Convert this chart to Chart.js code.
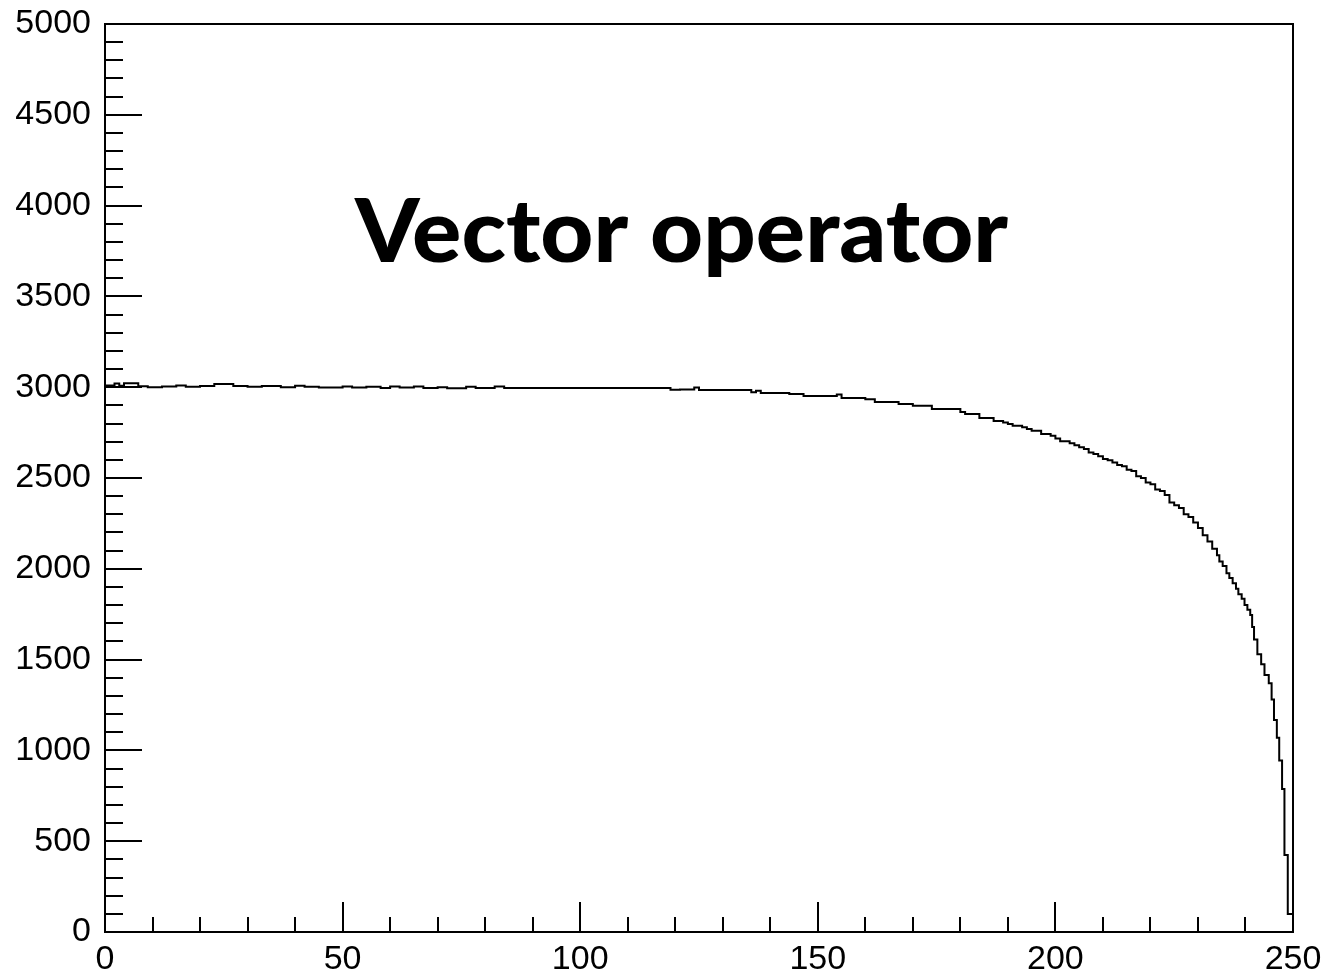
<!DOCTYPE html>
<html>
<head>
<meta charset="utf-8">
<script src="https://cdn.jsdelivr.net/npm/chart.js@4/dist/chart.umd.min.js"></script>
<style>
html,body{margin:0;padding:0;background:#fff;}
#c{display:block;}
</style>
</head>
<body>
<canvas id="c" width="1323" height="978"></canvas>
<script>
// ---- data (histogram step starts and contents) ----
const stepStarts = [0,2,3,4,7,9,12,15,17,20,23,27,30,33,37,40,42,45,50,52,55,58,60,62,65,67,70,72,76,78,82,84,87,
  119,121,124,125,136,137,138,144,147,154,155,160,162,167,170,174,180,181,184,187,189,190,191,193,194,195,197,199,
  200,201,203,204,205,206,207,208,209,210,211,212,213,214,215,216,217,218,219,220,221,222,223,224,225,226,227,228,229,
  230,231,232,233,234,234.5,235.2,236,236.6,237.3,238,238.5,239.2,239.8,240.4,241,241.4,241.8,242.5,243.3,244,244.9,
  245.5,246,246.6,247.1,247.7,248.2,248.9];
const stepCounts = [3010,3020,3008,3022,3005,3000,3004,3010,3002,3006,3018,3006,3002,3006,3000,3008,3002,2998,3004,2998,3002,2996,3004,2998,3004,2996,3000,2994,3002,2996,3004,2996,2996,
  2986,2988,2998,2985,2972,2980,2968,2962,2952,2960,2940,2934,2918,2907,2898,2880,2863,2852,2830,2814,2805,2798,2788,2780,2770,2760,2742,2732,
  2718,2702,2692,2680,2669,2660,2640,2632,2620,2605,2598,2585,2572,2565,2546,2538,2510,2500,2475,2465,2436,2428,2406,2365,2350,2335,2300,2285,2255,
  2225,2185,2150,2110,2075,2040,2015,1975,1950,1920,1890,1860,1835,1800,1775,1745,1680,1610,1530,1475,1415,1370,
  1280,1167,1070,945,787,424,99];
const xMax = 250;
const yMax = 5000;
const xTickStep = 50, xMinorStep = 10;
const yTickStep = 500, yMinorStep = 100;
const titleText = "Vector operator";

const points = stepStarts.map((x, i) => ({x: x, y: stepCounts[i]}));
points.push({x: xMax, y: 0});

const framePlugin = {
  id: 'rootFrame',
  afterDraw(chart) {
    const ctx = chart.ctx;
    const a = chart.chartArea;
    const xs = chart.scales.x, ys = chart.scales.y;
    ctx.save();
    ctx.strokeStyle = '#000';
    ctx.lineWidth = 2;
    ctx.lineCap = 'butt';
    ctx.strokeRect(a.left, a.top, a.right - a.left, a.bottom - a.top);
    ctx.beginPath();
    for (let v = 0; v <= yMax; v += yMinorStep) {
      const y = Math.round(ys.getPixelForValue(v));
      const len = (v % yTickStep === 0) ? 37 : 18;
      ctx.moveTo(a.left, y);
      ctx.lineTo(a.left + len, y);
    }
    for (let v = 0; v <= xMax; v += xMinorStep) {
      const x = Math.round(xs.getPixelForValue(v));
      const len = (v % xTickStep === 0) ? 30 : 15;
      ctx.moveTo(x, a.bottom);
      ctx.lineTo(x, a.bottom - len);
    }
    ctx.stroke();
    // title text inside the frame
    ctx.fillStyle = '#000';
    ctx.font = '900 88px Lato, "Open Sans", "DejaVu Sans", sans-serif';
    ctx.textBaseline = 'alphabetic';
    ctx.textAlign = 'left';
    const w = ctx.measureText(titleText).width;
    const target = 653;
    ctx.translate(355, 262);
    ctx.scale(target / w, 1);
    ctx.fillText(titleText, 0, 0);
    ctx.restore();
  }
};

const plainLabel = (v) => String(v);

new Chart(document.getElementById('c'), {
  type: 'line',
  data: {
    datasets: [{
      data: points,
      stepped: true,
      borderColor: '#000',
      borderWidth: 2,
      pointRadius: 0,
      fill: false
    }]
  },
  options: {
    responsive: false,
    animation: false,
    events: [],
    layout: { padding: { top: 24, right: 30, left: 0, bottom: 0 } },
    plugins: { legend: { display: false }, tooltip: { enabled: false }, title: { display: false } },
    scales: {
      x: {
        type: 'linear', min: 0, max: xMax,
        grid: { display: false, drawTicks: false },
        border: { display: false },
        ticks: { stepSize: xTickStep, color: '#000', padding: 7, maxRotation: 0, callback: plainLabel,
                 font: { family: '"Liberation Sans", Arial, sans-serif', size: 34 } },
        afterFit(s) { s.height = 46; s.paddingLeft = 0; s.paddingRight = 0; }
      },
      y: {
        min: 0, max: yMax,
        grid: { display: false, drawTicks: false },
        border: { display: false },
        ticks: { stepSize: yTickStep, color: '#000', padding: 14, callback: plainLabel,
                 font: { family: '"Liberation Sans", Arial, sans-serif', size: 34 } },
        afterFit(s) { s.width = 105; s.paddingTop = 0; s.paddingBottom = 0; }
      }
    }
  },
  plugins: [framePlugin]
});
</script>
</body>
</html>
